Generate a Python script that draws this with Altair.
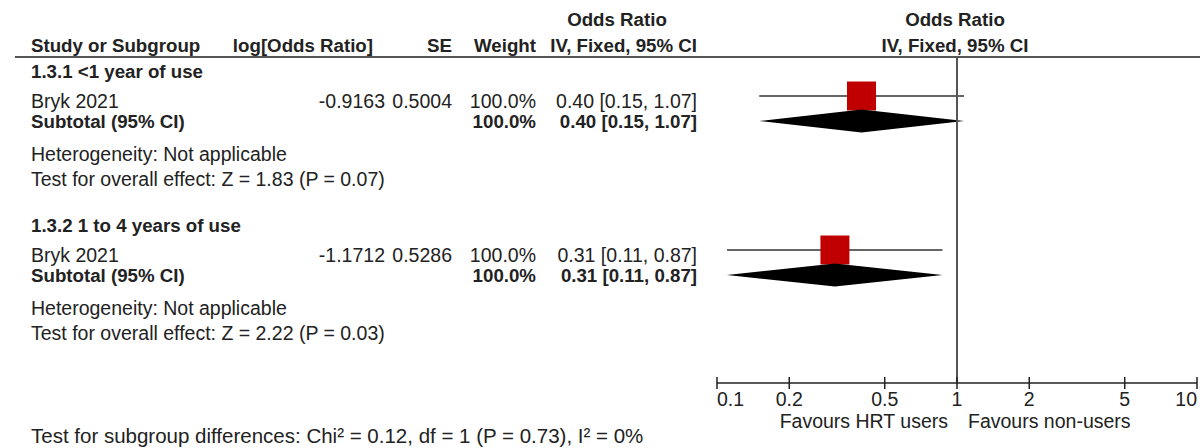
import altair as alt
import pandas as pd

# ---------------- data ----------------
groups = ["1.3.1 <1 year of use", "1.3.2 1 to 4 years of use"]
studies = ["Bryk 2021", "Bryk 2021"]
log_or = ["-0.9163", "-1.1712"]
se = ["0.5004", "0.5286"]
weight = ["100.0%", "100.0%"]
or_est = [0.40, 0.31]
ci_lo = [0.15, 0.11]
ci_hi = [1.07, 0.87]
sub_weight = ["100.0%", "100.0%"]
sub_est = [0.40, 0.31]
sub_lo = [0.15, 0.11]
sub_hi = [1.07, 0.87]
heterogeneity = ["Heterogeneity: Not applicable", "Heterogeneity: Not applicable"]
overall = ["Test for overall effect: Z = 1.83 (P = 0.07)",
           "Test for overall effect: Z = 2.22 (P = 0.03)"]
tick_values = [0.1, 0.2, 0.5, 1, 2, 5, 10]
tick_labels = ["0.1", "0.2", "0.5", "1", "2", "5", "10"]
favours_left = "Favours HRT users"
favours_right = "Favours non-users"
subgroup_test = "Test for subgroup differences: Chi\u00b2 = 0.12, df = 1 (P = 0.73), I\u00b2 = 0%"

# ---------------- layout ----------------
W, H = 1200, 448
FONT = "Liberation Sans"
FS_REG = 19.5
FS_BOLD = 18.7
FS_BOTTOM = 20.5
TXT = "#222222"
LINE = "#555555"
X_LEFT = 31
X_LOG, X_SE, X_W, X_OR = 385, 452, 536, 697
HEAD_Y1, HEAD_Y2 = 19, 45
RULE_Y = 57
AXIS_Y = 383
GROUP_OFFSET = 154
ROW = dict(head=71, study_txt=101, study_mark=96, sub=121, het=154, test=178.5)
DIAMOND_HALF = 11.5
SQUARE = 840

xscale = alt.Scale(type="log", domain=[0.1, 10], range=[717, 1197])

def fmt_ci(e, l, h):
    return f"{e:.2f} [{l:.2f}, {h:.2f}]"

# text items: (text, x, y, align, weight)
items = [
    ("Odds Ratio", 617, HEAD_Y1, "center", "bold"),
    ("Odds Ratio", 955, HEAD_Y1, "center", "bold"),
    ("Study or Subgroup", X_LEFT, HEAD_Y2, "left", "bold"),
    ("log[Odds Ratio]", 373, HEAD_Y2, "right", "bold"),
    ("SE", X_SE, HEAD_Y2, "right", "bold"),
    ("Weight", X_W, HEAD_Y2, "right", "bold"),
    ("IV, Fixed, 95% CI", X_OR, HEAD_Y2, "right", "bold"),
    ("IV, Fixed, 95% CI", 955, HEAD_Y2, "center", "bold"),
]
for g in range(2):
    off = g * GROUP_OFFSET
    items += [
        (groups[g], X_LEFT, ROW["head"] + off, "left", "bold"),
        (studies[g], X_LEFT, ROW["study_txt"] + off, "left", "normal"),
        (log_or[g], X_LOG, ROW["study_txt"] + off, "right", "normal"),
        (se[g], X_SE, ROW["study_txt"] + off, "right", "normal"),
        (weight[g], X_W, ROW["study_txt"] + off, "right", "normal"),
        (fmt_ci(or_est[g], ci_lo[g], ci_hi[g]), X_OR, ROW["study_txt"] + off, "right", "normal"),
        ("Subtotal (95% CI)", X_LEFT, ROW["sub"] + off, "left", "bold"),
        (sub_weight[g], X_W, ROW["sub"] + off, "right", "bold"),
        (fmt_ci(sub_est[g], sub_lo[g], sub_hi[g]), X_OR, ROW["sub"] + off, "right", "bold"),
        (heterogeneity[g], X_LEFT, ROW["het"] + off, "left", "normal"),
        (overall[g], X_LEFT, ROW["test"] + off, "left", "normal"),
    ]
tdf = pd.DataFrame(items, columns=["text", "px", "py", "align", "weight"])
tdf["py"] = tdf["py"] + 1

layers = []
for (al, wt), sub in tdf.groupby(["align", "weight"]):
    layers.append(
        alt.Chart(sub).mark_text(align=al, baseline="middle", font=FONT,
                                 fontSize=FS_BOLD if wt == "bold" else FS_REG,
                                 fontWeight=wt, color=TXT)
        .encode(x=alt.X("px:Q", scale=None, axis=None),
                y=alt.Y("py:Q", scale=None, axis=None),
                text="text:N")
    )

# bottom line
layers.append(alt.Chart(pd.DataFrame({"t": [subgroup_test]}))
              .mark_text(align="left", baseline="middle", font=FONT, fontSize=FS_BOTTOM, color=TXT)
              .encode(x=alt.value(X_LEFT), y=alt.value(437), text="t:N"))

# header rule
layers.append(alt.Chart(pd.DataFrame({"a": [0]})).mark_rule(color=LINE, strokeWidth=2)
              .encode(x=alt.value(15), x2=alt.value(W), y=alt.value(RULE_Y)))

# study CI lines and squares
sdf = pd.DataFrame({
    "est": or_est, "lo": ci_lo, "hi": ci_hi,
    "py": [ROW["study_mark"] + g * GROUP_OFFSET for g in range(2)],
})
layers.append(alt.Chart(sdf).mark_rule(color="#333333", strokeWidth=1.5)
              .encode(x=alt.X("lo:Q", scale=xscale, axis=None), x2="hi:Q",
                      y=alt.Y("py:Q", scale=None, axis=None)))
layers.append(alt.Chart(sdf).mark_square(size=SQUARE, color="#c00000", opacity=1, filled=True)
              .encode(x=alt.X("est:Q", scale=xscale, axis=None),
                      y=alt.Y("py:Q", scale=None, axis=None)))

# diamonds
drows = []
for g in range(2):
    c = ROW["sub"] + g * GROUP_OFFSET
    drows += [
        dict(grp=g, x=sub_lo[g], yt=c, yb=c),
        dict(grp=g, x=sub_est[g], yt=c - DIAMOND_HALF, yb=c + DIAMOND_HALF),
        dict(grp=g, x=sub_hi[g], yt=c, yb=c),
    ]
ddf = pd.DataFrame(drows)
layers.append(alt.Chart(ddf).mark_area(orient="vertical", color="black", opacity=1)
              .encode(x=alt.X("x:Q", scale=xscale, axis=None),
                      y=alt.Y("yt:Q", scale=None, axis=None), y2="yb:Q",
                      detail="grp:N"))

# null line
layers.append(alt.Chart(pd.DataFrame({"v": [1]})).mark_rule(color=LINE, strokeWidth=2)
              .encode(x=alt.X("v:Q", scale=xscale, axis=None),
                      y=alt.value(RULE_Y), y2=alt.value(AXIS_Y)))

# axis line, ticks, labels
layers.append(alt.Chart(pd.DataFrame({"lo": [tick_values[0]], "hi": [tick_values[-1]]}))
              .mark_rule(color="#222222", strokeWidth=1.5)
              .encode(x=alt.X("lo:Q", scale=xscale, axis=None), x2="hi:Q", y=alt.value(AXIS_Y)))
tk = pd.DataFrame({"v": tick_values, "lab": tick_labels})
layers.append(alt.Chart(tk).mark_rule(color="#222222", strokeWidth=1.5)
              .encode(x=alt.X("v:Q", scale=xscale, axis=None),
                      y=alt.value(AXIS_Y - 6), y2=alt.value(AXIS_Y + 6)))
for sub, al in [(tk.iloc[:1], "left"), (tk.iloc[1:-1], "center"), (tk.iloc[-1:], "right")]:
    layers.append(alt.Chart(sub).mark_text(align=al, baseline="middle", font=FONT, fontSize=FS_REG,
                                           color=TXT)
                  .encode(x=alt.X("v:Q", scale=xscale, axis=None), y=alt.value(400), text="lab:N"))
fav = pd.DataFrame({"v": [1]})
layers.append(alt.Chart(fav).mark_text(align="right", baseline="middle", font=FONT, fontSize=FS_REG,
                                       color=TXT, dx=-9, text=favours_left)
              .encode(x=alt.X("v:Q", scale=xscale, axis=None), y=alt.value(422)))
layers.append(alt.Chart(fav).mark_text(align="left", baseline="middle", font=FONT, fontSize=FS_REG,
                                       color=TXT, dx=11, text=favours_right)
              .encode(x=alt.X("v:Q", scale=xscale, axis=None), y=alt.value(422)))

chart = (alt.layer(*layers)
         .resolve_scale(x="independent", y="independent")
         .properties(width=W, height=H, autosize=alt.AutoSizeParams(type="none"), padding=0,
                     background="white")
         .configure_view(stroke=None))

chart.save("out.html", embed_options={"renderer": "svg", "actions": False})
